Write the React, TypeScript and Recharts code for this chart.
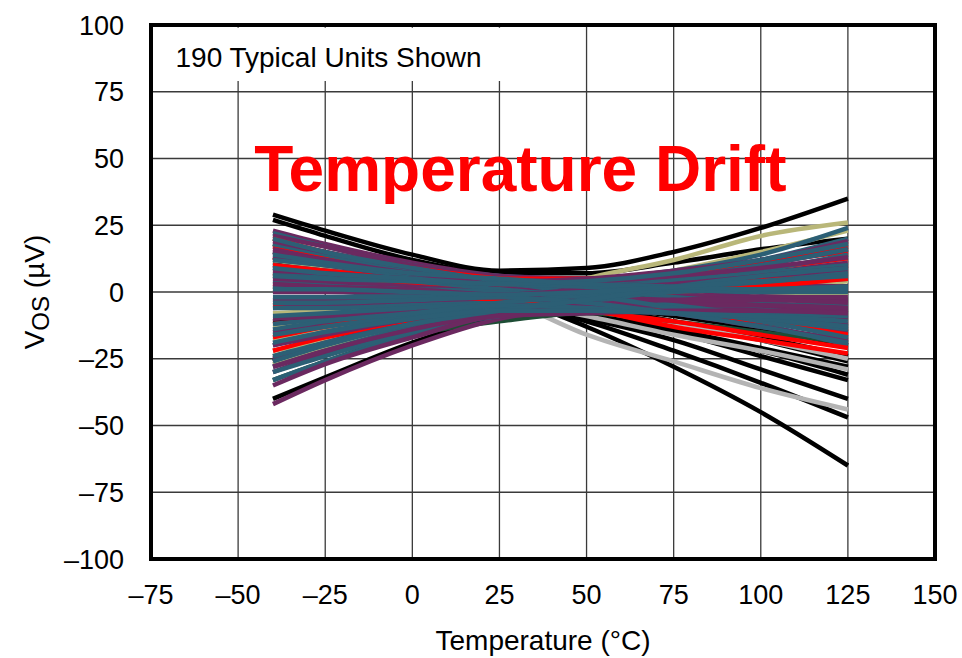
import React from 'react';
import { LineChart, Line, XAxis, YAxis, CartesianGrid, ReferenceArea } from 'recharts';

const temps = [-40, -25, 0, 25, 50, 75, 100, 125];
const xTicks = [-75, -50, -25, 0, 25, 50, 75, 100, 125, 150];
const yTicks = [-100, -75, -50, -25, 0, 25, 50, 75, 100];

const blackUnits = [
  [29, 23, 14, 8, 9, 15, 24, 35],
  [27, 21, 12, 7, 7, 11, 16, 20],
  [-40, -32, -19, -9, -4, -1, 1, 2],
  [11, 8, 4, -1, -13, -28, -45, -65],
  [6, 4, 1, -3, -11, -22, -34, -47],
  [2, 1, -1, -4, -10, -18, -29, -40],
  [9, 7, 3, -2, -8, -15, -24, -33],
  [-3, -3, -3, -4, -9, -15, -22, -31],
  [4, 3, 1, -3, -8, -14, -21, -28],
  [15, 12, 6, 1, -5, -11, -18, -26],
  [18, 14, 8, 5, 4, 3, 2, 2],
  [-26, -20, -12, -6, -4, -2, -1, 0],
  [7, 5, 3, 0, -6, -11, -17, -24],
  [-11, -9, -6, -3, -5, -9, -14, -20],
  [13, 10, 6, 4, 5, 7, 9, 12],
];

const grayUnits = [
  [12, 10, 5, -2, -16, -26, -36, -44],
  [8, 6, 2, -3, -9, -16, -22, -29],
  [-5, -4, -3, -4, -7, -12, -18, -25],
];

const greenUnits = [
  [-33, -26, -16, -11, -8, -11, -15, -19],
];

const khakiUnits = [
  [-27, -21, -12, -5, 5, 12, 21, 26],
  [-22, -18, -10, -4, 2, 8, 15, 23],
  [-24, -19, -12, -8, -6, -3, 1, 4],
  [2, 2, 2, 3, 2, 0, -2, -5],
  [12, 9, 5, 2, -1, -4, -8, -11],
  [-8, -7, -6, -6, -3, 1, 5, 8],
  [-18, -14, -8, -5, -4, -3, -2, -1],
  [-13, -10, -6, -3, 0, 4, 7, 11],
];

const redUnits = [
  [13, 10, 6, 2, -6, -13, -18, -23],
  [-22, -17, -11, -6, -2, 2, 6, 10],
  [3, 2, 0, -2, -3, -6, -10, -15],
  [17, 13, 8, 5, 5, 7, 11, 17],
  [-12, -10, -6, -3, 0, 4, 8, 12],
  [20, 15, 9, 5, 2, -2, -5, -8],
  [-5, -4, -3, -2, 2, 6, 11, 15],
  [7, 6, 3, 0, -3, -7, -11, -16],
  [-17, -13, -8, -4, -2, 0, 2, 5],
  [10, 8, 5, 3, 3, 4, 5, 6],
  [1, 1, -1, -3, -7, -11, -16, -21],
];

const purpleUnits = [
  [23, 18, 11, 6, 4, 1, -1, -3],
  [-42, -33, -20, -10, -6, -1, 3, 6],
  [21, 17, 10, 6, 5, 4, 3, 2],
  [-30, -23, -14, -8, -5, -2, 0, 2],
  [16, 12, 7, 3, -2, -7, -11, -15],
  [-15, -12, -8, -5, -1, 3, 7, 11],
  [10, 8, 5, 2, 1, -1, -2, -3],
  [-6, -5, -4, -3, 1, 5, 10, 16],
  [5, 4, 2, 0, -2, -4, -7, -10],
  [-20, -16, -10, -6, -4, -3, -2, -2],
  [19, 15, 9, 4, 0, -4, -7, -9],
  [-25, -19, -12, -7, -7, -8, -10, -12],
  [0, 0, 0, -1, -2, -3, -5, -7],
  [13, 10, 6, 3, 3, 4, 6, 8],
  [-10, -9, -7, -5, -5, -5, -5, -6],
  [8, 7, 5, 4, 4, 6, 9, 13],
  [-3, -3, -2, -2, -4, -8, -13, -18],
  [-28, -22, -14, -8, -5, -3, -3, -4],
  [15, 12, 7, 4, 5, 8, 12, 19],
  [-35, -27, -17, -9, -8, -7, -7, -8],
  [3, 2, 1, -1, 1, 3, 6, 9],
];

const tealUnits = [
  [-33, -26, -16, -8, -3, 2, 7, 12],
  [22, 17, 10, 6, 5, 8, 14, 24],
  [-28, -22, -13, -6, 0, 6, 12, 20],
  [15, 12, 7, 3, -1, -6, -12, -20],
  [4, 3, 2, 1, 1, 1, 1, 2],
  [-12, -10, -7, -4, -2, 1, 3, 5],
  [10, 8, 5, 3, 1, -2, -4, -6],
  [-20, -15, -10, -6, -2, 3, 8, 14],
  [18, 14, 8, 4, 2, -2, -5, -8],
  [-6, -6, -5, -4, -4, -5, -6, -8],
  [0, 0, -1, -1, 1, 5, 10, 16],
  [-24, -19, -12, -7, -6, -5, -5, -5],
  [7, 6, 4, 1, -2, -6, -10, -14],
  [12, 10, 6, 4, 4, 5, 7, 10],
  [-16, -13, -9, -6, -3, 0, 1, 2],
  [2, 2, 1, 0, -2, -5, -9, -13],
  [-30, -24, -15, -9, -7, -7, -8, -9],
  [-9, -8, -6, -4, -1, 2, 4, 7],
  [20, 15, 9, 4, -1, -6, -11, -17],
  [-2, -2, -2, -1, 1, 4, 7, 10],
  [6, 5, 4, 3, 2, 1, 0, 0],
  [-14, -11, -8, -5, -6, -8, -10, -13],
  [9, 7, 5, 3, 4, 7, 12, 18],
  [-4, -4, -3, -2, -4, -8, -13, -19],
  [14, 11, 7, 5, 3, 2, 1, 1],
  [-26, -20, -12, -7, -3, 2, 6, 9],
  [-19, -15, -10, -7, -7, -8, -9, -11],
  [1, 1, 0, -1, 0, 2, 4, 6],
];

const COLORS = {
  black: '#000000',
  gray: '#b4b4b4',
  green: '#1e4d35',
  khaki: '#b9b779',
  red: '#ff0000',
  purple: '#6b2960',
  teal: '#2c5f75',
};

const series: { key: string; color: string; values: number[] }[] = [];
const addSeries = (color: string, values: number[]) => {
  series.push({ key: 'u' + series.length, color, values });
};

// outer units underneath
blackUnits.forEach((u) => addSeries(COLORS.black, u));
grayUnits.forEach((u) => addSeries(COLORS.gray, u));
greenUnits.forEach((u) => addSeries(COLORS.green, u));
khakiUnits.slice(0, 2).forEach((u) => addSeries(COLORS.khaki, u));

// the dense core is drawn interleaved, so every colour shows through
const mixed: { color: string; units: number[][] }[] = [
  { color: COLORS.khaki, units: khakiUnits.slice(2) },
  { color: COLORS.red, units: redUnits },
  { color: COLORS.purple, units: purpleUnits },
  { color: COLORS.teal, units: tealUnits },
];
const longest = Math.max(...mixed.map((m) => m.units.length));
for (let i = 0; i < longest; i++) {
  mixed.forEach((m) => {
    if (i < m.units.length) addSeries(m.color, m.units[i]);
  });
}

const data = temps.map((t, i) => {
  const row: Record<string, number> = { t };
  series.forEach((s) => {
    row[s.key] = s.values[i];
  });
  return row;
});

const FONT = '"Liberation Sans", Arial, sans-serif';

const fmt = (v: number) => (v < 0 ? '\u2013' + Math.abs(v) : String(v));

export default function App() {
  return (
    <div style={{ position: 'absolute', left: 0, top: 0, width: 962, height: 658, background: '#fff' }}>
      <LineChart
        width={962}
        height={658}
        data={data}
        margin={{ top: 25, right: 27, left: 91, bottom: 39 }}
        style={{ fontFamily: FONT }}
      >
        <CartesianGrid stroke="#3a3a3a" strokeWidth={1.3} />
        <XAxis
          dataKey="t"
          type="number"
          domain={[-75, 150]}
          ticks={xTicks}
          tickFormatter={fmt}
          axisLine={false}
          tickLine={false}
          tickSize={0}
          tickMargin={26}
          height={60}
          interval={0}
          tick={{ fill: '#000', fontSize: 27, fontFamily: FONT }}
          label={(props: any) => {
            const vb = props.viewBox || { x: 151, y: 559, width: 784, height: 60 };
            return (
              <text
                x={vb.x + vb.width / 2}
                y={vb.y + 91}
                textAnchor="middle"
                fill="#000"
                fontSize={28}
                fontFamily={FONT}
              >
                Temperature (°C)
              </text>
            );
          }}
        />
        <YAxis
          type="number"
          domain={[-100, 100]}
          ticks={yTicks}
          tickFormatter={fmt}
          axisLine={false}
          tickLine={false}
          tickSize={0}
          tickMargin={27}
          width={60}
          interval={0}
          tick={{ fill: '#000', fontSize: 27, fontFamily: FONT }}
          label={(props: any) => {
            const vb = props.viewBox || { x: 91, y: 25, width: 60, height: 534 };
            const cx = vb.x - 57;
            const cy = vb.y + vb.height / 2;
            return (
              <text
                x={cx}
                y={cy}
                transform={`rotate(-90 ${cx} ${cy})`}
                textAnchor="middle"
                dominantBaseline="central"
                fill="#000"
                fontSize={28}
                fontFamily={FONT}
              >
                V
                <tspan dy={6} fontSize={24}>OS</tspan>
                <tspan dy={-6}> (µV)</tspan>
              </text>
            );
          }}
        />
        <ReferenceArea
          x1={-74}
          x2={26.5}
          y1={79}
          y2={99}
          fill="#ffffff"
          fillOpacity={1}
          stroke="none"
          label={(props: any) => {
            const vb = props.viewBox || { x: 154, y: 28, width: 350, height: 53 };
            return (
              <text x={vb.x + 21} y={vb.y + 39} fill="#000" fontSize={28} fontFamily={FONT}>
                190 Typical Units Shown
              </text>
            );
          }}
        />
        {series.map((s) => (
          <Line
            key={s.key}
            dataKey={s.key}
            type="monotone"
            stroke={s.color}
            strokeWidth={4.5}
            dot={false}
            activeDot={false}
            isAnimationActive={false}
          />
        ))}
        <ReferenceArea
          x1={-70}
          x2={132}
          y1={38}
          y2={60}
          fill="none"
          fillOpacity={0}
          stroke="none"
          label={(props: any) => {
            const vb = props.viewBox || { x: 168, y: 132, width: 704, height: 59 };
            return (
              <text
                x={vb.x + vb.width / 2}
                y={vb.y + vb.height}
                textAnchor="middle"
                fill="#ff0000"
                fontSize={64}
                fontWeight="bold"
                fontFamily={FONT}
              >
                Temperature Drift
              </text>
            );
          }}
        />
        <ReferenceArea
          x1={-75}
          x2={150}
          y1={-100}
          y2={100}
          fill="none"
          fillOpacity={0}
          stroke="#000"
          strokeWidth={4}
        />
      </LineChart>
    </div>
  );
}
